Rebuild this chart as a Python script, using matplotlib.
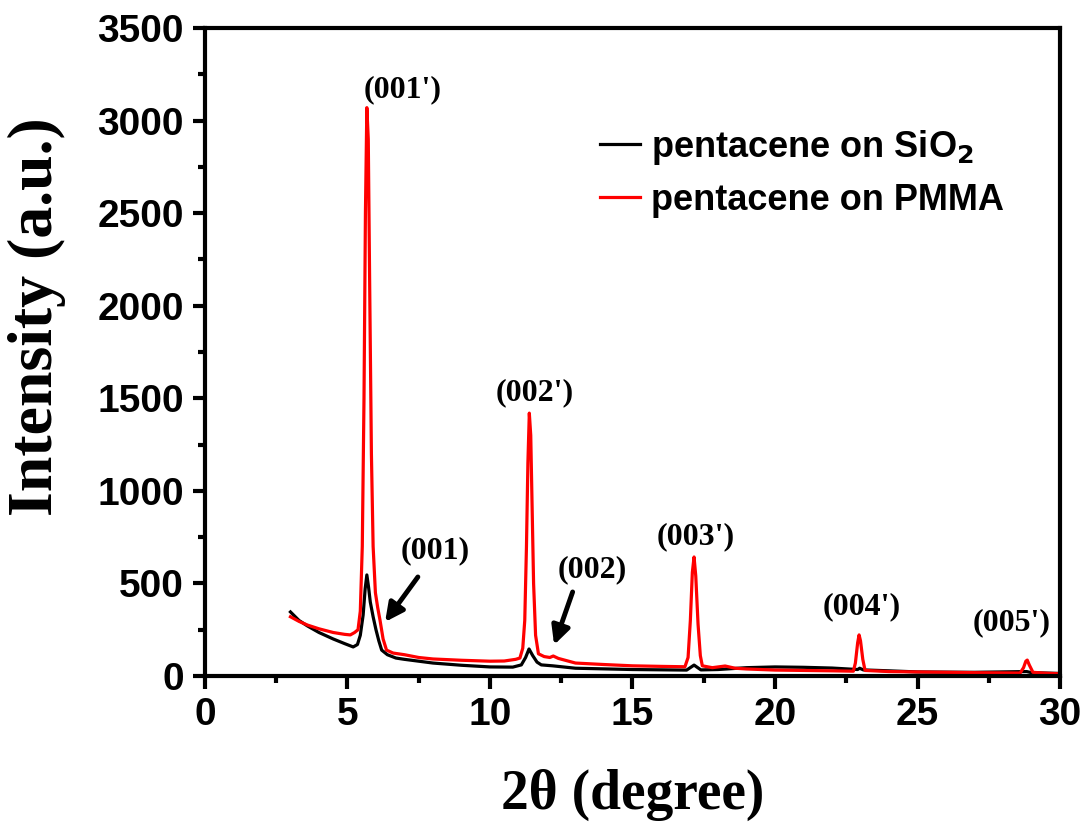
import numpy as np
import matplotlib.pyplot as plt

# (2theta in degree, intensity in a.u.)
x_pmma = [3.0, 3.3, 3.6, 4.0, 4.5, 4.9, 5.1, 5.25, 5.37, 5.45, 5.52, 5.58, 5.63, 5.68, 5.73, 5.78, 5.84, 5.9,
          5.98, 6.06, 6.14, 6.25, 6.37, 6.6, 7.0, 7.5, 8.0, 9.0, 10.0, 10.5, 10.9, 11.05, 11.15, 11.22, 11.28,
          11.33, 11.38, 11.43, 11.48, 11.53, 11.6, 11.7, 11.9, 12.1, 12.22, 12.4, 13.0, 14.0, 15.0, 16.0, 16.84,
          16.95, 17.03, 17.1, 17.16, 17.22, 17.3, 17.38, 17.45, 17.8, 18.25, 18.6, 19.0, 20.0, 21.0, 22.0, 22.75,
          22.82, 22.9, 22.95, 23.0, 23.08, 23.16, 24.0, 25.0, 27.0, 28.6, 28.72, 28.8, 28.85, 28.92, 29.05, 29.5, 30.0]
y_pmma = [320, 295, 275, 255, 235, 225, 222, 235, 250, 350, 700, 1500, 2500, 3070, 2900, 2100, 1200, 700,
          450, 370, 303, 200, 140, 124, 115, 100, 92, 85, 80, 81, 90, 97, 150, 300, 700,
          1150, 1420, 1300, 900, 500, 220, 120, 105, 100, 108, 95, 70, 62, 55, 52, 50,
          100, 300, 560, 643, 540, 280, 110, 55, 45, 54, 42, 38, 32, 30, 28, 26,
          70, 180, 222, 190, 90, 30, 24, 22, 18, 16, 45, 80, 86, 60, 20, 15, 12]

x_sio2 = [3.0, 3.3, 3.6, 4.0, 4.5, 4.9, 5.2, 5.35, 5.45, 5.55, 5.62, 5.68, 5.74, 5.8, 5.9, 6.0, 6.1, 6.2, 6.4,
          6.7, 7.0, 8.0, 9.0, 10.0, 10.8, 11.1, 11.25, 11.37, 11.5, 11.65, 11.8, 12.2, 13.0, 15.0, 16.9, 17.16,
          17.4, 18.0, 19.0, 20.0, 21.0, 22.0, 22.9, 22.97, 23.1, 24.0, 25.0, 27.0, 28.83, 29.0, 30.0]
y_sio2 = [346, 300, 270, 235, 200, 175, 157, 170, 220, 330, 470, 546, 480, 400, 320, 250, 190, 140, 115,
          97, 90, 70, 58, 49, 48, 60, 100, 146, 110, 75, 60, 55, 42, 35, 32, 59,
          33, 35, 45, 49, 47, 43, 35, 42, 33, 28, 22, 20, 24, 18, 14]

peak_labels = ["(001')", "(002')", "(003')", "(004')", "(005')"]
peak_x = [6.95, 11.58, 17.2, 23.05, 28.3]
peak_y = [3165, 1530, 750, 373, 286]

fig = plt.figure(figsize=(10.81, 8.25), dpi=100)
ax = fig.add_axes([0.1896, 0.1806, 0.791, 0.7854])

ax.plot(x_sio2, y_sio2, color='black', lw=2.3, label='pentacene on SiO$_\\mathbf{2}$')
ax.plot(x_pmma, y_pmma, color='red', lw=2.3, label='pentacene on PMMA')

ax.set_xlim(0, 30)
ax.set_ylim(0, 3500)
ax.set_xticks(np.arange(0, 31, 5))
ax.set_xticks(np.arange(2.5, 30, 5), minor=True)
ax.set_yticks(np.arange(0, 3501, 500))
ax.set_yticks(np.arange(250, 3500, 500), minor=True)

for s in ax.spines.values():
    s.set_linewidth(3)
ax.tick_params(which='major', direction='out', length=9, width=3, labelsize=28, pad=6)
ax.tick_params(which='minor', direction='out', length=5, width=3)
for lab in ax.get_xticklabels() + ax.get_yticklabels():
    lab.set_fontweight('bold')
    lab.set_family('Liberation Sans')

ax.set_xlabel('2θ (degree)', fontsize=40, fontweight='bold', family='Liberation Serif', labelpad=26)
ax.set_ylabel('Intensity (a.u.)', fontsize=46, fontweight='bold', family='Liberation Serif')
ax.yaxis.set_label_coords(-0.163, 0.554)

for t, px, py in zip(peak_labels, peak_x, peak_y):
    ax.text(px, py, t, ha='center', va='center', fontsize=23, fontweight='bold', family='Liberation Serif')

ax.text(8.07, 675, '(001)', ha='center', va='center', fontsize=23, fontweight='bold', family='Liberation Serif')
ax.text(13.6, 573, '(002)', ha='center', va='center', fontsize=23, fontweight='bold', family='Liberation Serif')
arr = dict(arrowstyle='-|>,head_width=0.55,head_length=1.1', color='black', lw=3.5, shrinkA=0, shrinkB=0)
ax.annotate('', xy=(6.32, 292), xytext=(7.47, 535), arrowprops=arr)
ax.annotate('', xy=(12.25, 168), xytext=(12.9, 454), arrowprops=arr)

leg = ax.legend(loc='upper left', bbox_to_anchor=(0.462, 0.846), frameon=False, handlelength=1.1,
                handletextpad=0.3, borderpad=0, borderaxespad=0,
                prop={'family': 'Liberation Sans', 'weight': 'bold', 'size': 26}, labelspacing=0.45)

fig.savefig('out.png', dpi=100)
